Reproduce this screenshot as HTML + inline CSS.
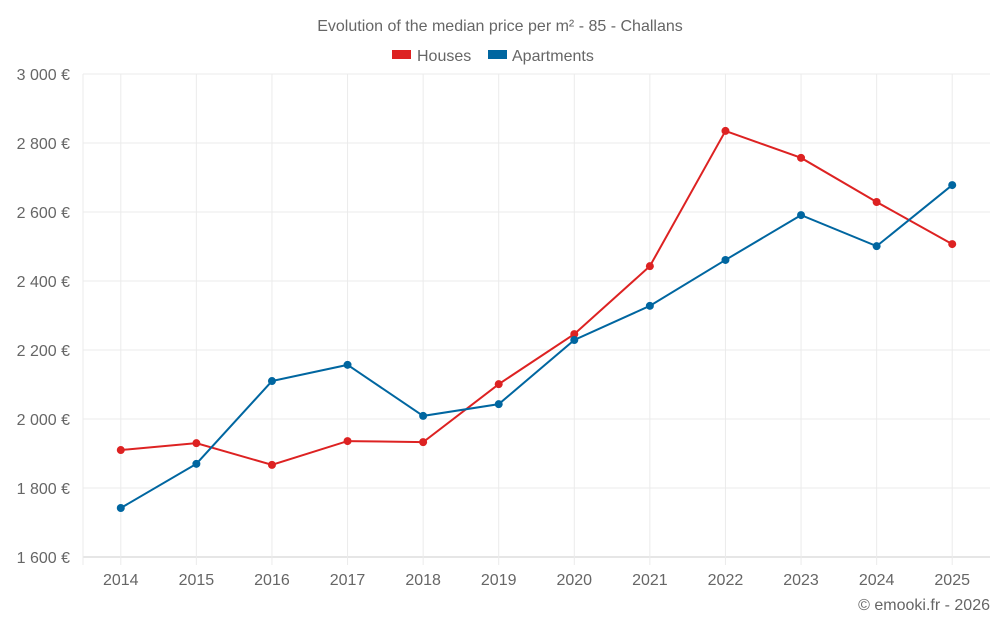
<!DOCTYPE html>
<html><head><meta charset="utf-8"><style>
body{margin:0;background:#fff;font-family:"Liberation Sans",Roboto,sans-serif}
svg text{font-family:"Liberation Sans",sans-serif;fill:#666}
</style></head><body>
<svg id="chart" width="1000" height="625" xmlns="http://www.w3.org/2000/svg">
<text x="500" y="31" text-anchor="middle" font-size="16">Evolution of the median price per m² - 85 - Challans</text>
<g>
<g><rect x="392" y="50" width="19" height="9" fill="#dd2222"/><text x="417" y="61" font-size="16">Houses</text></g>
<g><rect x="488" y="50" width="19" height="9" fill="#0066a0"/><text x="512" y="61" font-size="16">Apartments</text></g>
</g>
<g id="grid"></g><g id="axes"></g><g id="series"></g>
<text x="990" y="610" text-anchor="end" font-size="16">© emooki.fr - 2026</text>
</svg>
<script>
const years=["2014","2015","2016","2017","2018","2019","2020","2021","2022","2023","2024","2025"];
const houses=[1910,1930,1867,1936,1933,2101,2246,2443,2835,2757,2629,2507];
const apartments=[1742,1870,2110,2157,2009,2043,2229,2328,2461,2591,2501,2678];
const yTicks=[1600,1800,2000,2200,2400,2600,2800,3000];
const yTickLabels=["1 600 €","1 800 €","2 000 €","2 200 €","2 400 €","2 600 €","2 800 €","3 000 €"];
const NS="http://www.w3.org/2000/svg";
const L=83,R=990,T=74,B=557,yMin=1600,yMax=3000;
const bw=(R-L)/years.length;
const x=i=>L+bw*(i+0.5);
const y=v=>B-(v-yMin)/(yMax-yMin)*(B-T);
function mk(tag,attrs,parent){const e=document.createElementNS(NS,tag);for(const k in attrs)e.setAttribute(k,attrs[k]);parent.appendChild(e);return e;}
const grid=document.getElementById('grid'),axes=document.getElementById('axes'),ser=document.getElementById('series');
yTicks.forEach((t,i)=>{
 const l=mk('line',{x1:L,x2:R,y1:y(t),y2:y(t),stroke:i==0?'#ccc':'#ebebeb'},grid);
 
 
 const tx=mk('text',{x:70,y:y(t)+6,'text-anchor':'end','font-size':16},axes);
 tx.textContent=yTickLabels[i];
 
 
});
const al=mk('line',{x1:L,x2:L,y1:T,y2:B+8,stroke:'#ebebeb'},grid);


years.forEach((yr,i)=>{
 const l=mk('line',{x1:x(i),x2:x(i),y1:T,y2:B+8,stroke:'#ebebeb'},grid);
 
 
 const tx=mk('text',{x:x(i),y:585,'text-anchor':'middle','font-size':16},axes);
 tx.textContent=yr;
 
 
});
function drawSeries(vals,color,name){
 const p=mk('polyline',{points:vals.map((v,i)=>x(i)+','+y(v)).join(' '),fill:'none',stroke:color,'stroke-width':2},ser);
 
 
 vals.forEach((v,i)=>{
  const c=mk('circle',{cx:x(i),cy:y(v),r:4,fill:color},ser);
  
  
 });
}
drawSeries(houses,'#dd2222','houses');
drawSeries(apartments,'#0066a0','apartments');
</script>
</body></html>
